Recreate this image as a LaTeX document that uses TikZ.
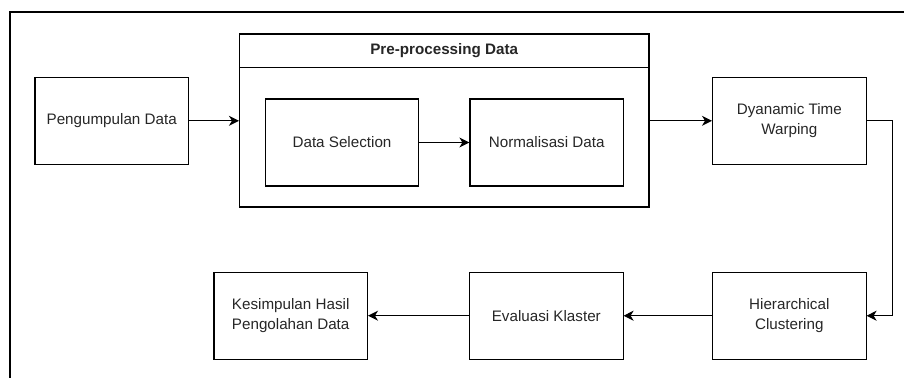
\documentclass[tikz,border=0pt]{standalone}
\usepackage{fontspec}
\setmainfont{Liberation Sans}
\usetikzlibrary{arrows.meta,calc}
\begin{document}
\begin{tikzpicture}[x=1pt,y=-1pt,
  box/.style={draw=black,line width=1.1pt,minimum width=153.5pt,minimum height=87pt,inner sep=2pt,align=center,font=\fontsize{15.2}{20.5}\selectfont,text=black!85},
  flow/.style={draw=black,line width=1.1pt,-{Stealth[length=10pt,width=10pt,inset=3pt]}},
  frame/.style={draw=black,line width=1.1pt}]
\useasboundingbox (0,0) rectangle (904,378);
\coordinate (ftr) at (904,12);
\coordinate (ftl) at (10,12);
\coordinate (fbl) at (10,378);
\draw[frame] (ftr) -- (ftl) -- (fbl);
\node[box] (pengumpulan) at (111.7,120.8) {Pengumpulan Data};
\node[draw=black,line width=1.1pt,minimum width=409.5pt,minimum height=173pt,inner sep=0pt] (pre) at (444.25,120.5) {};
\coordinate (hl) at (239.5,67.3);
\coordinate (hr) at (649,67.3);
\draw[frame] (hl) -- (hr);
\node[font=\bfseries\fontsize{15.2}{18}\selectfont,text=black!85] (hdr) at (444.25,51) {Pre-processing Data};
\node[box] (selection) at (342,142.5) {Data Selection};
\node[box] (normal) at (546.7,142.5) {Normalisasi Data};
\node[box] (dtw) at (789.3,120.8) {Dyanamic Time\\Warping};
\node[box] (hier) at (789.3,315.7) {Hierarchical\\Clustering};
\node[box] (eval) at (546.3,315.7) {Evaluasi Klaster};
\node[box] (kesimpulan) at (290.7,315.7) {Kesimpulan Hasil\\Pengolahan Data};
\draw[flow] (pengumpulan) -- (pre.west |- pengumpulan);
\draw[flow] (selection) -- (normal);
\draw[flow] (pre.east |- dtw) -- (dtw);
\draw[flow] (dtw.east) -- ++(26,0) |- (hier.east);
\draw[flow] (hier) -- (eval);
\draw[flow] (eval) -- (kesimpulan);
\end{tikzpicture}
\end{document}
